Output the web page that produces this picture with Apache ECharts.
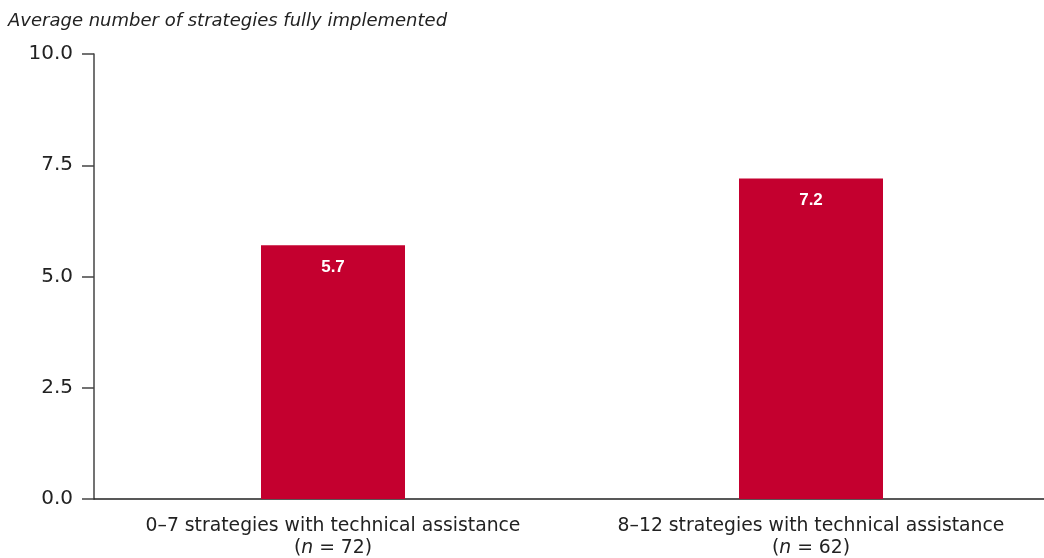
<!DOCTYPE html>
<html>
<head>
<meta charset="utf-8">
<script src="https://cdn.jsdelivr.net/npm/echarts@6/dist/echarts.min.js"></script>
<style>
html,body{margin:0;padding:0;background:#fff;}
#chart{width:1044px;height:558px;}
</style>
</head>
<body>
<div id="chart"></div>
<script>
const categories = ["0–7 strategies with technical assistance", "8–12 strategies with technical assistance"];
const sampleSizes = ["72", "62"];
const values = [5.7, 7.2];
const yTicks = [0, 2.5, 5, 7.5, 10];
const titleText = "Average number of strategies fully implemented";

const FONT = "'DejaVu Sans', Verdana, sans-serif";
const chart = echarts.init(document.getElementById('chart'));
chart.setOption({
  animation: false,
  backgroundColor: '#fff',
  title: {
    text: titleText,
    left: 3, top: 7,
    textStyle: {fontFamily: FONT, fontSize: 18, fontStyle: 'italic', fontWeight: 'normal', color: '#222'}
  },
  grid: {left: 94, width: 956, top: 54, bottom: 59, containLabel: false, outerBoundsMode: 'none'},
  xAxis: {
    type: 'category',
    data: categories.map((c, i) => c + '\n{p|(}{n|n}{p| = ' + sampleSizes[i] + ')}'),
    axisLine: {lineStyle: {color: '#222', width: 1.5}},
    axisTick: {show: false},
    axisLabel: {
      interval: 0, hideOverlap: false,
      margin: 16, fontFamily: FONT, fontSize: 18.8, color: '#222', lineHeight: 22,
      rich: {
        p: {fontFamily: FONT, fontSize: 18.8, color: '#222', lineHeight: 22},
        n: {fontFamily: FONT, fontSize: 18.8, color: '#222', fontStyle: 'italic', lineHeight: 22}
      }
    }
  },
  yAxis: {
    type: 'value', min: yTicks[0], max: yTicks[yTicks.length - 1], interval: 2.5,
    axisLine: {show: true, lineStyle: {color: '#444', width: 1.5}},
    axisTick: {show: true, inside: false, length: 12, lineStyle: {color: '#444', width: 1.5}},
    splitLine: {show: false},
    axisLabel: {margin: 21, fontFamily: FONT, fontSize: 20, color: '#222', formatter: v => v.toFixed(1)}
  },
  series: [{
    type: 'bar',
    data: values,
    barWidth: 144,
    itemStyle: {color: '#c4002f'},
    label: {
      show: true, position: 'insideTop', distance: 13,
      fontFamily: "'Liberation Sans', Arial, sans-serif", fontSize: 17, fontWeight: 'bold', color: '#fff',
      formatter: p => p.value.toFixed(1)
    }
  }]
});
</script>
</body>
</html>
